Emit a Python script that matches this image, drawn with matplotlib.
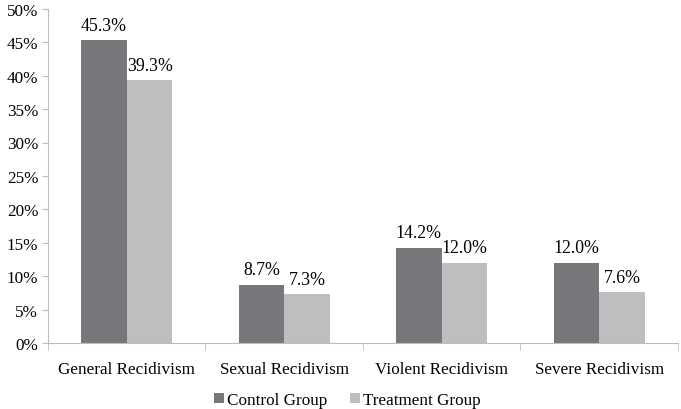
import numpy as np
import matplotlib.pyplot as plt
from matplotlib.ticker import FuncFormatter

categories = ["General Recidivism", "Sexual Recidivism", "Violent Recidivism", "Severe Recidivism"]
control = [45.3, 8.7, 14.2, 12.0]
treatment = [39.3, 7.3, 12.0, 7.6]
series_names = ["Control Group", "Treatment Group"]

plt.rcParams['font.family'] = ['Liberation Serif', 'DejaVu Serif']
plt.rcParams['font.size'] = 12.3

fig = plt.figure(figsize=(6.81, 4.10), dpi=100)
ax = fig.add_axes([0.0705, 0.161, 0.925, 0.815])

x = np.arange(len(categories))
w = 0.29
c1 = "#76777a"
c2 = "#bdbec0"
b1 = ax.bar(x - w / 2, control, w, color=c1, label=series_names[0])
b2 = ax.bar(x + w / 2, treatment, w, color=c2, label=series_names[1])

for bars, vals in ((b1, control), (b2, treatment)):
    for rect, v in zip(bars, vals):
        ax.text(rect.get_x() + rect.get_width() / 2, v + 1.0, "%.1f%%" % v,
                ha="center", va="bottom", fontsize=12.8)

ax.set_xlim(-0.5, len(categories) - 0.5)
ax.set_ylim(0, 50)
ax.set_yticks(np.arange(0, 51, 5))
ax.yaxis.set_major_formatter(FuncFormatter(lambda v, p: "%d%%" % v))
ax.set_xticks(x)
ax.set_xticklabels(categories)
ax.set_xticks(np.arange(-0.5, len(categories), 1), minor=True)
ax.tick_params(axis="x", which="major", length=0, pad=13)
ax.tick_params(axis="x", which="minor", length=5, color="#bbbbbb")
ax.tick_params(axis="y", length=4, color="#bbbbbb", pad=3)

for side in ["top", "right"]:
    ax.spines[side].set_visible(False)
ax.spines["left"].set_color("#bbbbbb")
ax.spines["bottom"].set_color("#bbbbbb")

fig.legend(handles=[b1, b2], loc="lower center", bbox_to_anchor=(0.51, -0.035),
           ncol=2, frameon=False, handlelength=0.6, handleheight=0.6,
           handletextpad=0.2, columnspacing=1.3)

fig.savefig("out.png", dpi=100)
